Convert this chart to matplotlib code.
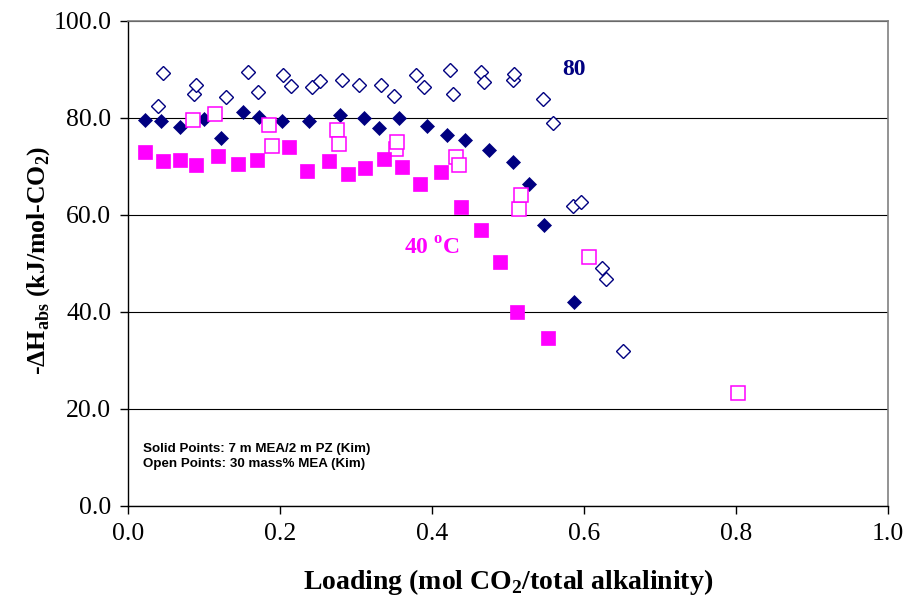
import matplotlib
matplotlib.use('Agg')
import matplotlib.pyplot as plt
from matplotlib.ticker import FormatStrFormatter

plt.rcParams['font.family'] = ['Liberation Serif', 'DejaVu Serif']
plt.rcParams['mathtext.fontset'] = 'custom'
plt.rcParams['mathtext.rm'] = 'Liberation Serif'
plt.rcParams['mathtext.bf'] = 'Liberation Serif:bold'

NAVY = '#000080'
MAGENTA = '#FF00FF'

# 7 m MEA / 2 m PZ at 80 C (solid diamonds)
pz80_load = [0.022, 0.044, 0.069, 0.100, 0.122, 0.151, 0.172, 0.203, 0.238, 0.279,
             0.310, 0.330, 0.357, 0.393, 0.420, 0.443, 0.475, 0.507, 0.528, 0.547, 0.587]
pz80_dh = [79.5, 79.4, 78.1, 79.7, 75.9, 81.3, 80.2, 79.4, 79.4, 80.7,
           79.9, 78.0, 79.9, 78.4, 76.4, 75.4, 73.3, 70.9, 66.4, 57.9, 42.1]

# 30 mass% MEA at 80 C (open diamonds)
mea80_load = [0.040, 0.046, 0.087, 0.090, 0.129, 0.158, 0.171, 0.204, 0.214, 0.242,
              0.253, 0.282, 0.304, 0.333, 0.350, 0.379, 0.389, 0.424, 0.427, 0.464,
              0.469, 0.507, 0.508, 0.546, 0.559, 0.585, 0.596, 0.624, 0.629, 0.651]
mea80_dh = [82.5, 89.2, 84.9, 86.9, 84.3, 89.5, 85.3, 88.9, 86.5, 86.3,
            87.6, 87.9, 86.9, 86.8, 84.5, 88.9, 86.3, 89.8, 84.9, 89.5,
            87.4, 87.8, 89.1, 84.0, 78.9, 61.9, 62.7, 49.1, 46.9, 32.0]

# 7 m MEA / 2 m PZ at 40 C (solid squares)
pz40_load = [0.023, 0.046, 0.068, 0.089, 0.118, 0.145, 0.170, 0.212, 0.236, 0.264,
             0.290, 0.312, 0.337, 0.360, 0.384, 0.412, 0.438, 0.464, 0.489, 0.512, 0.552]
pz40_dh = [73.0, 71.1, 71.3, 70.3, 72.1, 70.5, 71.3, 74.1, 69.0, 71.1,
           68.5, 69.6, 71.6, 69.8, 66.3, 68.9, 61.6, 57.0, 50.4, 39.9, 34.6]

# 30 mass% MEA at 40 C (open squares)
mea40_load = [0.085, 0.114, 0.185, 0.190, 0.275, 0.278, 0.352, 0.354, 0.432, 0.436,
              0.514, 0.517, 0.607, 0.802]
mea40_dh = [79.6, 80.9, 78.6, 74.2, 77.5, 74.6, 73.6, 75.1, 71.9, 70.3,
            61.2, 64.1, 51.4, 23.3]

x_ticks = [0.0, 0.2, 0.4, 0.6, 0.8, 1.0]
y_ticks = [0, 20, 40, 60, 80, 100]

fig = plt.figure(figsize=(9.08, 5.99), dpi=100)
ax = fig.add_axes([128 / 908, 1 - 506 / 599, 760 / 908, 485 / 599])

ax.plot(mea80_load, mea80_dh, 'D', ms=7.2, mfc='white', mec=NAVY, mew=1.0, ls='none')
ax.plot(pz80_load, pz80_dh, 'D', ms=7.6, mfc=NAVY, mec=NAVY, mew=0.5, ls='none')
ax.plot(mea40_load, mea40_dh, 's', ms=10, mfc='white', mec=MAGENTA, mew=1.1, ls='none')
ax.plot(pz40_load, pz40_dh, 's', ms=10.5, mfc=MAGENTA, mec=MAGENTA, mew=0.5, ls='none')

ax.set_xlim(0, 1.0)
ax.set_ylim(0, 100)
ax.set_xticks(x_ticks)
ax.set_yticks(y_ticks)
ax.xaxis.set_major_formatter(FormatStrFormatter('%.1f'))
ax.yaxis.set_major_formatter(FormatStrFormatter('%.1f'))
ax.tick_params(direction='out', length=6, width=1, labelsize=18.5, pad=6, color='black')

ax.yaxis.grid(True, color='black', lw=0.8)
ax.set_axisbelow(True)
for side in ['left', 'bottom']:
    ax.spines[side].set_color('black')
    ax.spines[side].set_linewidth(1)
for side in ['top', 'right']:
    ax.spines[side].set_color('#808080')
    ax.spines[side].set_linewidth(1.2)

ax.set_xlabel(r'Loading (mol CO$_{\mathbf{2}}$/total alkalinity)',
              fontsize=20, fontweight='bold')
ax.xaxis.set_label_coords(0.5, -0.126)
ax.set_ylabel(r'-$\mathbf{\Delta}$H$_{\mathbf{abs}}$ (kJ/mol-CO$_{\mathbf{2}}$)',
              fontsize=18.5, fontweight='bold')
ax.yaxis.set_label_coords(-0.1, 0.507)

ax.text(0.587, 90.0, '80', color=NAVY, fontsize=17, fontweight='bold',
        ha='center', va='center')
ax.text(0.40, 53.0, r'40 $^{\mathbf{o}}$C', color=MAGENTA, fontsize=17,
        fontweight='bold', ha='center', va='center')

note = 'Solid Points: 7 m MEA/2 m PZ (Kim)\nOpen Points: 30 mass% MEA (Kim)'
ax.text(0.02, 13.0, note, family=['Liberation Sans', 'DejaVu Sans'], fontsize=9.6,
        fontweight='bold', ha='left', va='top', linespacing=1.3)

fig.savefig('out.png', dpi=100)
